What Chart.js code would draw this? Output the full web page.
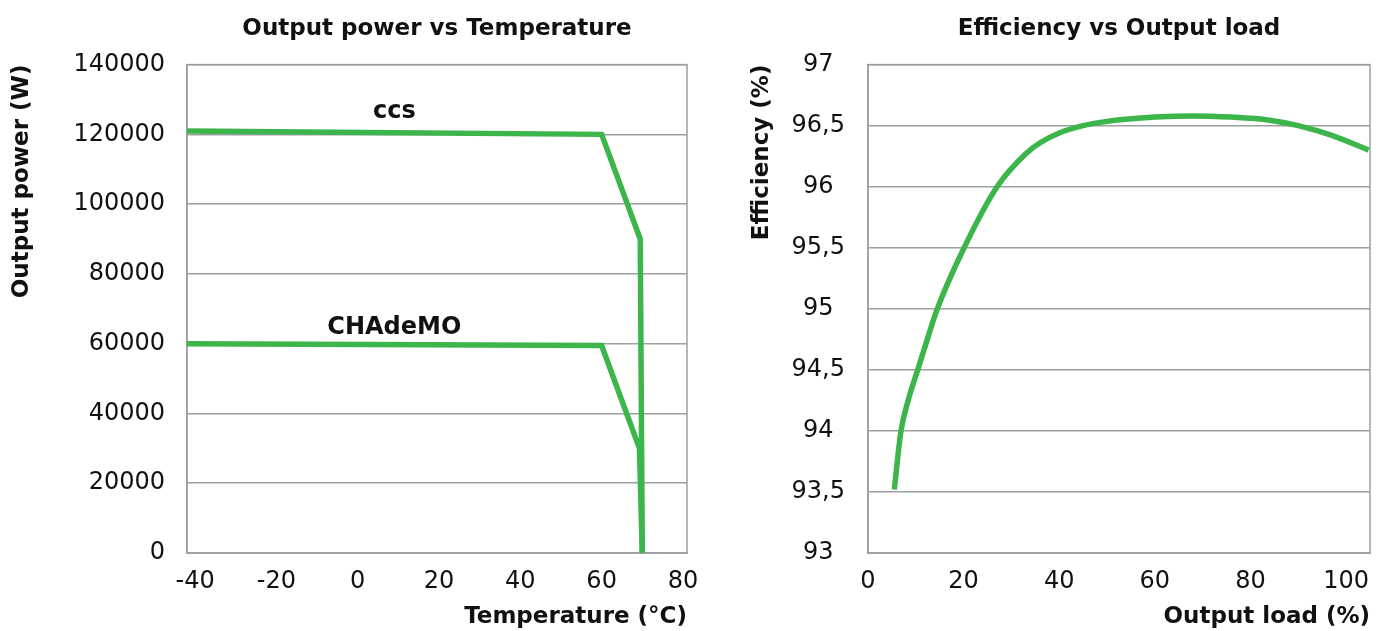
<!DOCTYPE html>
<html>
<head>
<meta charset="utf-8">
<script src="https://cdn.jsdelivr.net/npm/chart.js@4"></script>
<style>
  html, body { margin: 0; padding: 0; background: #fff; }
  #wrap { position: relative; width: 1386px; height: 631px; }
  .box { position: absolute; top: 0; height: 631px; }
  #leftBox { left: 0; width: 700px; }
  #rightBox { left: 700px; width: 686px; }
</style>
</head>
<body>
<div id="wrap">
  <div class="box" id="leftBox"><canvas id="powerChart"></canvas></div>
  <div class="box" id="rightBox"><canvas id="effChart"></canvas></div>
</div>
<script>
// output power vs temperature
const tempCcs = [-42, 60, 69.5, 70];
const powerCcs = [121000, 120000, 90000, 0];
const tempChademo = [-42, 60, 69.3, 70];
const powerChademo = [60000, 59500, 30000, 0];
const tempTicks = [-40, -20, 0, 20, 40, 60, 80];

// series names, drawn next to the lines
const seriesNames = ['ccs', 'CHAdeMO'];
const nameTemps = [9, 9];
const namePowers = [126500, 64600];

// efficiency vs output load
const loadPct = [5.5, 6.9, 8.4, 10.4, 12.4, 14.5, 20.1, 27.0, 33.0, 36.0, 40.0, 45.0, 50.0, 60.0, 68.0, 76.0, 84.0, 90.0, 97.0, 104.7];
const efficiency = [93.52, 94.0, 94.25, 94.5, 94.75, 95.0, 95.5, 96.0, 96.27, 96.36, 96.44, 96.5, 96.535, 96.57, 96.58, 96.57, 96.545, 96.5, 96.42, 96.3];
const loadTicks = [0, 20, 40, 60, 80, 100];

const green = '#3cb54a';
const gridColor = '#9c9fa2';
const textColor = '#111';
const fontName = 'DejaVu Sans';
const tickFont = { family: fontName, size: 24, weight: '400' };
const boldFont = { family: fontName, size: 23, weight: '700' };

function toPoints(xs, ys) {
    return xs.map((x, i) => ({ x: x, y: ys[i] }));
}

// box round the plot area
const frame = {
    id: 'frame',
    beforeDatasetsDraw(chart) {
        const a = chart.chartArea;
        const ctx = chart.ctx;
        ctx.save();
        ctx.strokeStyle = gridColor;
        ctx.lineWidth = 1.5;
        ctx.strokeRect(a.left, a.top, a.right - a.left, a.bottom - a.top);
        ctx.restore();
    }
};

const seriesLabels = {
    id: 'seriesLabels',
    afterDatasetsDraw(chart) {
        const ctx = chart.ctx;
        ctx.save();
        ctx.fillStyle = textColor;
        ctx.font = '700 24px ' + fontName;
        ctx.textAlign = 'center';
        ctx.textBaseline = 'middle';
        seriesNames.forEach((name, i) => {
            ctx.fillText(name, chart.scales.x.getPixelForValue(nameTemps[i]), chart.scales.y.getPixelForValue(namePowers[i]));
        });
        ctx.restore();
    }
};

function fitX(s) {
    s.height = 78;
    s.paddingLeft = 0;
    s.paddingRight = 0;
}

const titlePad = { top: 15, bottom: 22 };
const xTitlePad = { top: 0, bottom: 0 };

new Chart(document.getElementById('powerChart'), {
    type: 'scatter',
    data: {
        datasets: [
            { label: 'ccs', data: toPoints(tempCcs, powerCcs) },
            { label: 'CHAdeMO', data: toPoints(tempChademo, powerChademo) }
        ].map(d => Object.assign(d, { showLine: true, borderColor: green, borderWidth: 5.5, pointRadius: 0, borderJoinStyle: 'miter' }))
    },
    options: {
        responsive: true,
        maintainAspectRatio: false,
        animation: false,
        layout: { padding: { left: 0, right: 13, top: 0, bottom: 0 } },
        plugins: {
            legend: { display: false },
            tooltip: { enabled: false },
            title: { display: true, text: 'Output power vs Temperature', fullSize: false, color: textColor, font: boldFont, padding: titlePad }
        },
        scales: {
            x: {
                type: 'linear', min: -42, max: 81,
                afterBuildTicks: s => { s.ticks = tempTicks.map(v => ({ value: v })); },
                afterFit: fitX,
                grid: { display: false, drawTicks: false },
                border: { display: true, color: gridColor, width: 1.5 },
                ticks: { padding: 14, color: textColor, font: tickFont, maxRotation: 0 },
                title: { display: true, text: 'Temperature (°C)', align: 'end', color: textColor, font: boldFont, padding: xTitlePad }
            },
            y: {
                min: 0, max: 140000,
                afterFit: s => { s.width = 187; },
                grid: { color: gridColor, lineWidth: 1.5, drawTicks: false },
                border: { display: true, color: gridColor, width: 1.5 },
                ticks: { stepSize: 20000, padding: 22, crossAlign: 'near', color: textColor, font: tickFont, callback: v => String(v) },
                title: { display: true, text: 'Output power (W)', align: 'end', color: textColor, font: boldFont, padding: { top: 8, bottom: 0 } }
            }
        }
    },
    plugins: [frame, seriesLabels]
});

new Chart(document.getElementById('effChart'), {
    type: 'scatter',
    data: {
        datasets: [{
            label: 'Efficiency',
            data: toPoints(loadPct, efficiency),
            showLine: true,
            borderColor: green,
            borderWidth: 5.5,
            pointRadius: 0,
            cubicInterpolationMode: 'monotone'
        }]
    },
    options: {
        responsive: true,
        maintainAspectRatio: false,
        animation: false,
        layout: { padding: { left: 0, right: 16, top: 0, bottom: 0 } },
        plugins: {
            legend: { display: false },
            tooltip: { enabled: false },
            title: { display: true, text: 'Efficiency vs Output load', fullSize: false, color: textColor, font: boldFont, padding: titlePad }
        },
        scales: {
            x: {
                type: 'linear', min: 0, max: 105,
                afterBuildTicks: s => { s.ticks = loadTicks.map(v => ({ value: v })); },
                afterFit: fitX,
                grid: { display: false, drawTicks: false },
                border: { display: true, color: gridColor, width: 1.5 },
                ticks: { padding: 14, color: textColor, font: tickFont, maxRotation: 0 },
                title: { display: true, text: 'Output load (%)', align: 'end', color: textColor, font: boldFont, padding: xTitlePad }
            },
            y: {
                min: 93, max: 97,
                afterFit: s => { s.width = 168; },
                grid: { color: gridColor, lineWidth: 1.5, drawTicks: false },
                border: { display: true, color: gridColor, width: 1.5 },
                ticks: {
                    stepSize: 0.5, padding: 23, crossAlign: 'center', color: textColor, font: tickFont,
                    callback: v => String(v).replace('.', ',')
                },
                title: { display: true, text: 'Efficiency (%)', align: 'end', color: textColor, font: boldFont, padding: { top: 48, bottom: 0 } }
            }
        }
    },
    plugins: [frame]
});
</script>
</body>
</html>
